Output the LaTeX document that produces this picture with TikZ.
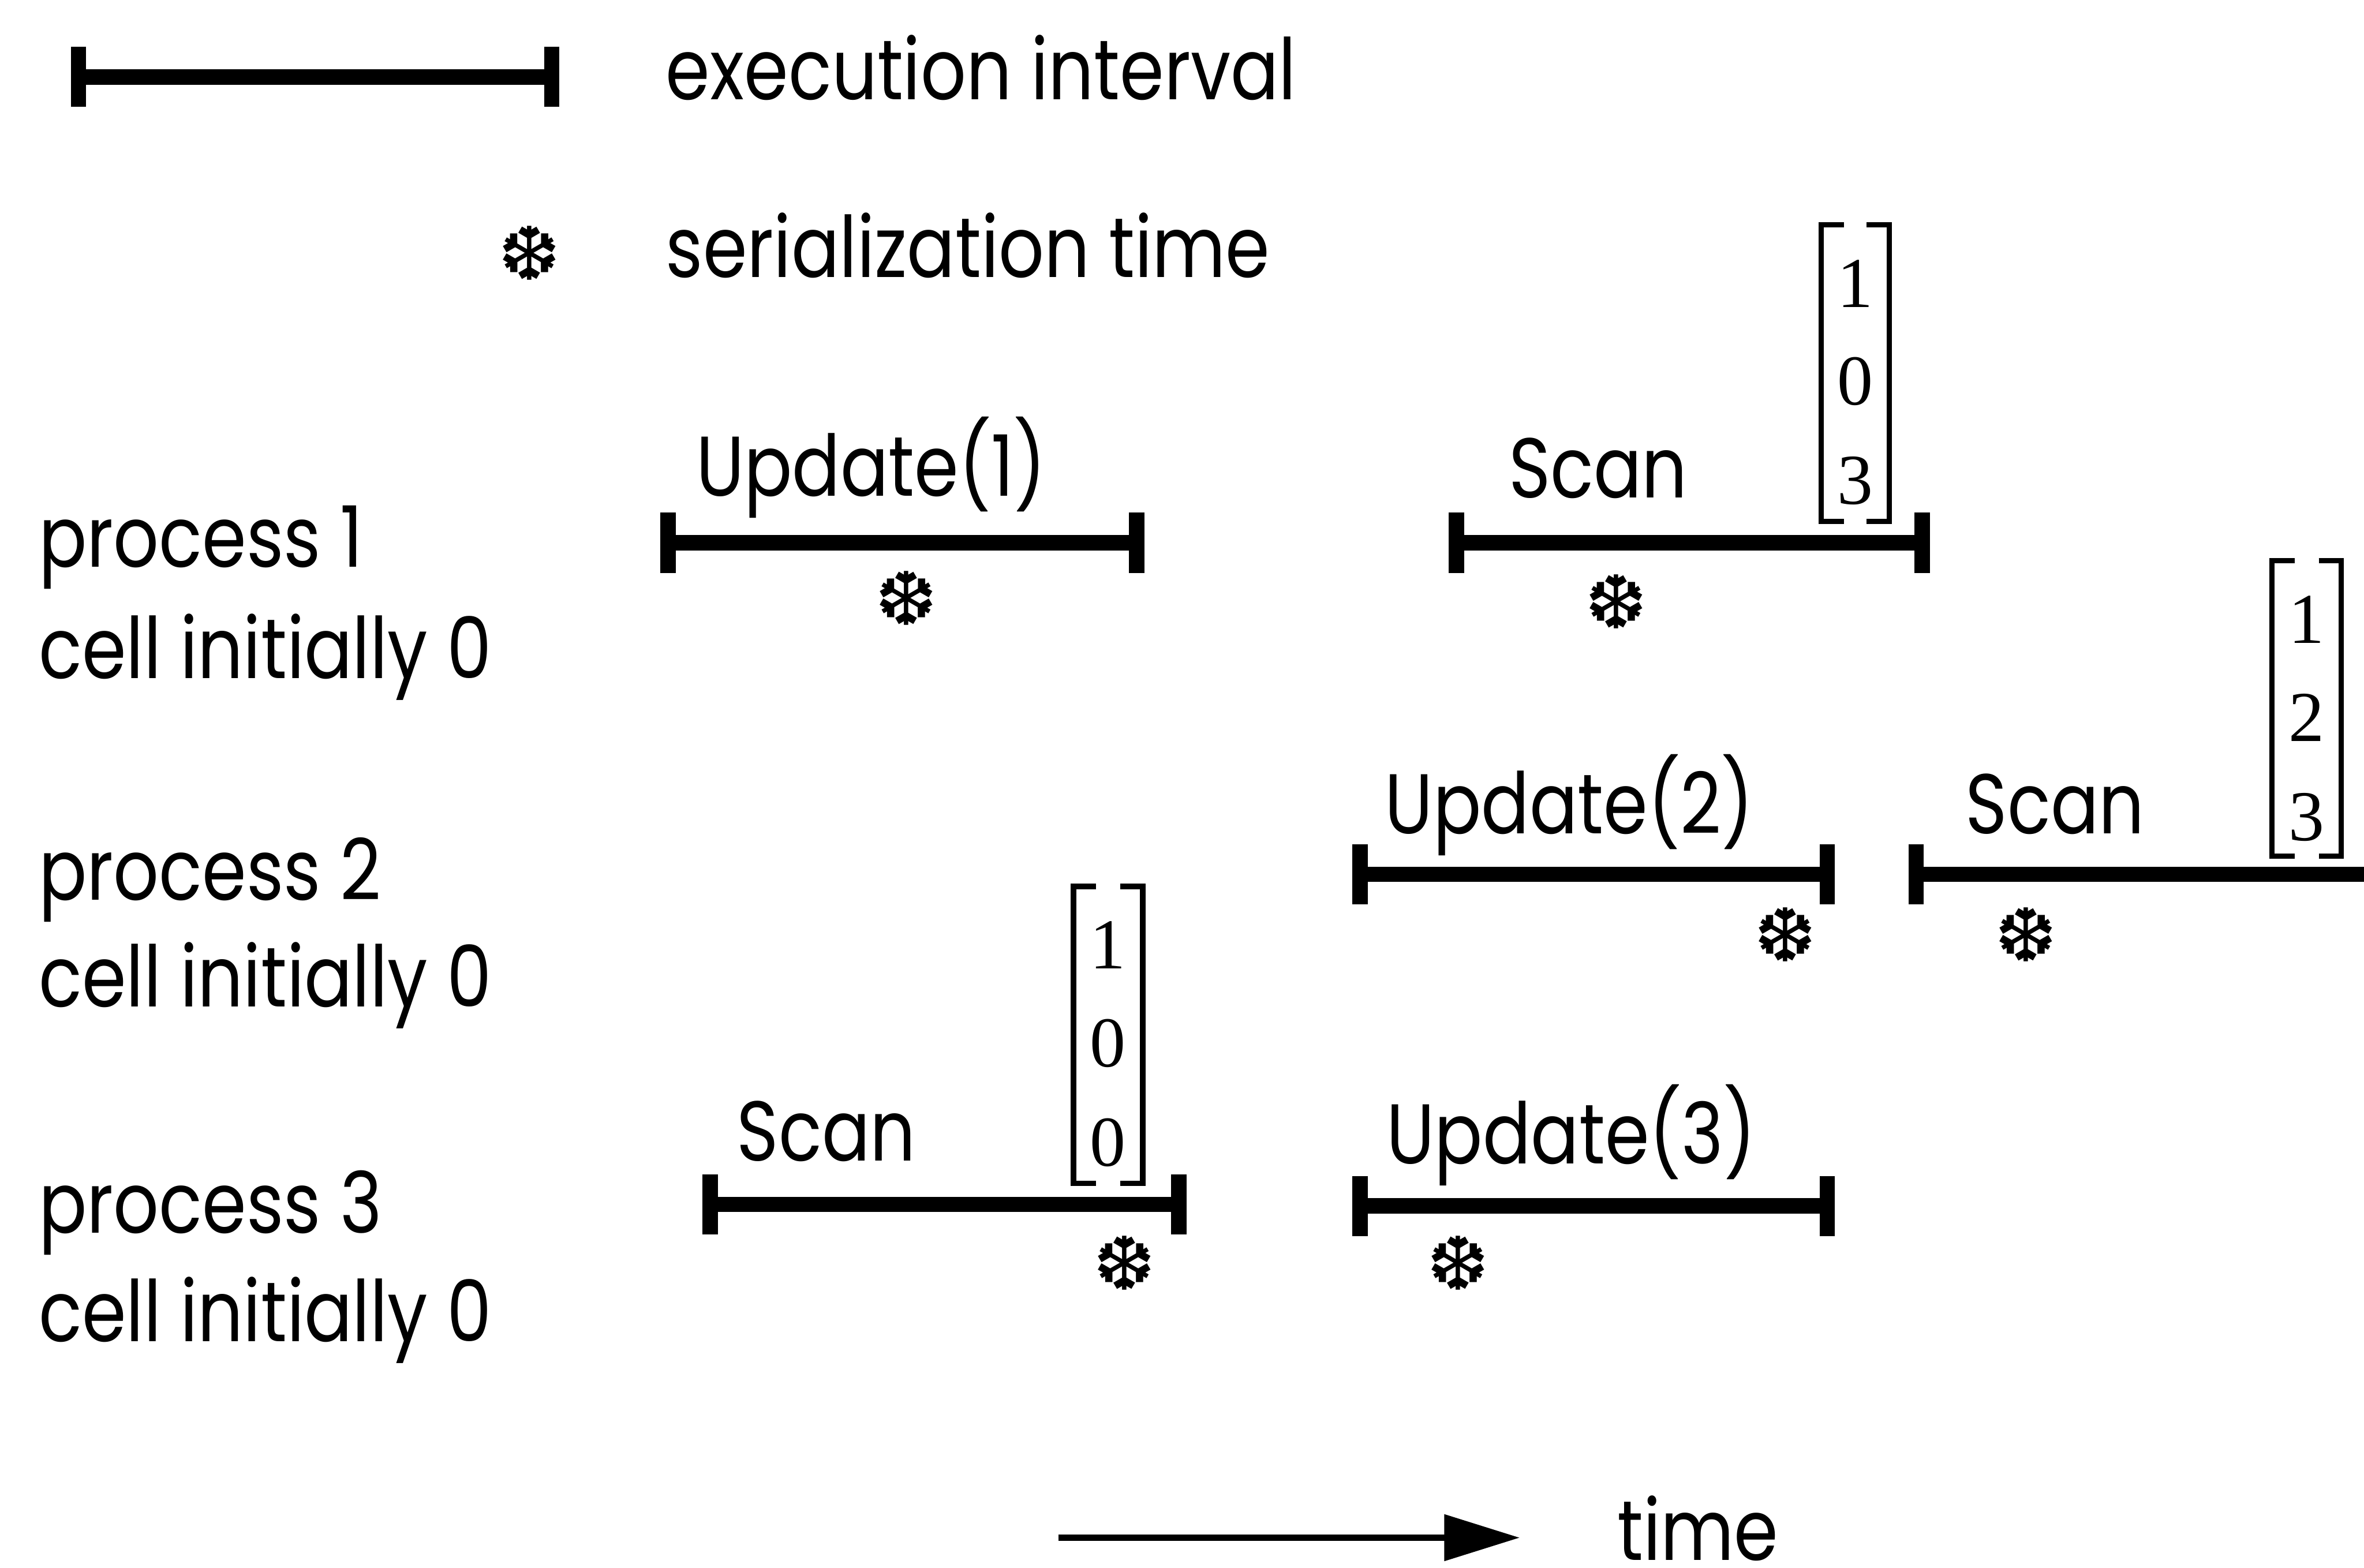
\documentclass[tikz,border=0pt]{standalone}
\usepackage{fontspec}
\setmainfont{Poppins}[FakeStretch=0.84]
\newfontfamily\digitfont{Liberation Serif}
\newfontfamily\symfont{DejaVu Sans}
\usetikzlibrary{arrows.meta}

% an execution interval: bar between two end ticks
\newcommand\interval[4]{%
  \coordinate (#1-s) at (#2,#4);
  \coordinate (#1-e) at (#3,#4);
  \draw[ivbar] (#1-s) -- (#1-e);
  \draw[ivtick] (#1-s) ++(0,-20) -- ++(0,40);
  \draw[ivtick] (#1-e) ++(0,-20) -- ++(0,40);}

% a bracketed column of three values: name, left, right, top, bottom, digits
\newcommand\valcol[8]{%
  \coordinate (#1-tl) at (#2,#4);
  \coordinate (#1-br) at (#3,#5);
  \draw[brk] ([xshift=0.15cm]#1-tl) -| (#1-tl |- #1-br) -- ++(15,0);
  \draw[brk] ([xshift=-0.15cm]#1-tl -| #1-br) -| (#1-br) -- ++(-15,0);
  \node[digit] (#1-a) at ({(#2+#3)/2},{#4+39}) {#6};
  \node[digit] (#1-b) at ({(#2+#3)/2},{#4+104}) {#7};
  \node[digit] (#1-c) at ({(#2+#3)/2},{#4+170}) {#8};}

\begin{document}
\begin{tikzpicture}[x=0.01cm,y=-0.01cm,
  txt/.style={anchor=base west, inner sep=0, font=\fontsize{16}{18}\selectfont},
  flake/.style={inner sep=0, font=\symfont\fontsize{14}{14}\selectfont},
  digit/.style={inner sep=0, font=\digitfont\fontsize{13.5}{13.5}\selectfont},
  ivbar/.style={line width=2.9pt},
  ivtick/.style={line width=2.9pt},
  brk/.style={line width=1pt},
  timearrow/.style={line width=1.2pt, -{Triangle[length=0.5cm,width=0.3cm]}}]

\useasboundingbox (0,0) rectangle (1568,1040);

% legend
\interval{leg}{52}{366}{51}
\node[txt] (legiv) at (441,66) {execution interval};
\node[flake] (legfl) at (351,168) {❆};
\node[txt] (legst) at (441,184) {serialization time};

% process labels
\node[txt] (p1) at (25,376) {process 1};
\node[txt] (c1) at (25,450) {cell initially 0};
\node[txt] (p2) at (25,597) {process 2};
\node[txt] (c2) at (25,668) {cell initially 0};
\node[txt] (p3) at (25,818) {process 3};
\node[txt] (c3) at (25,890) {cell initially 0};

% process 1
\interval{u1}{443}{754}{360}
\node[txt] (u1l) at (461,329) {Update(1)};
\node[flake] (u1f) at (601,397) {❆};
\interval{s1}{966}{1275}{360}
\node[txt] (s1l) at (1000,330) {Scan};
\node[flake] (s1f) at (1072,399) {❆};
\valcol{v1}{1208}{1253}{149}{346}{1}{0}{3}

% process 2
\interval{u2}{902}{1212}{580}
\node[txt] (u2l) at (918,553) {Update(2)};
\node[flake] (u2f) at (1184,620) {❆};
\coordinate (s2-s) at (1271,580);
\coordinate (s2-e) at (1568,580);
\draw[ivbar] (s2-s) -- (s2-e);
\draw[ivtick] (s2-s) ++(0,-20) -- ++(0,40);
\node[txt] (s2l) at (1303,553) {Scan};
\node[flake] (s2f) at (1344,620) {❆};
\valcol{v2}{1507}{1553}{372}{568}{1}{2}{3}

% process 3
\interval{s3}{471}{782}{799}
\node[txt] (s3l) at (488,770) {Scan};
\node[flake] (s3f) at (746,838) {❆};
\valcol{v3}{712}{758}{588}{785}{1}{0}{0}
\interval{u3}{902}{1212}{800}
\node[txt] (u3l) at (919,772) {Update(3)};
\node[flake] (u3f) at (967,838) {❆};

% time axis
\coordinate (t0) at (702,1020);
\coordinate (t1) at (1008,1020);
\draw[timearrow] (t0) -- (t1);
\node[txt] (time) at (1072,1035) {time};
\end{tikzpicture}
\end{document}
